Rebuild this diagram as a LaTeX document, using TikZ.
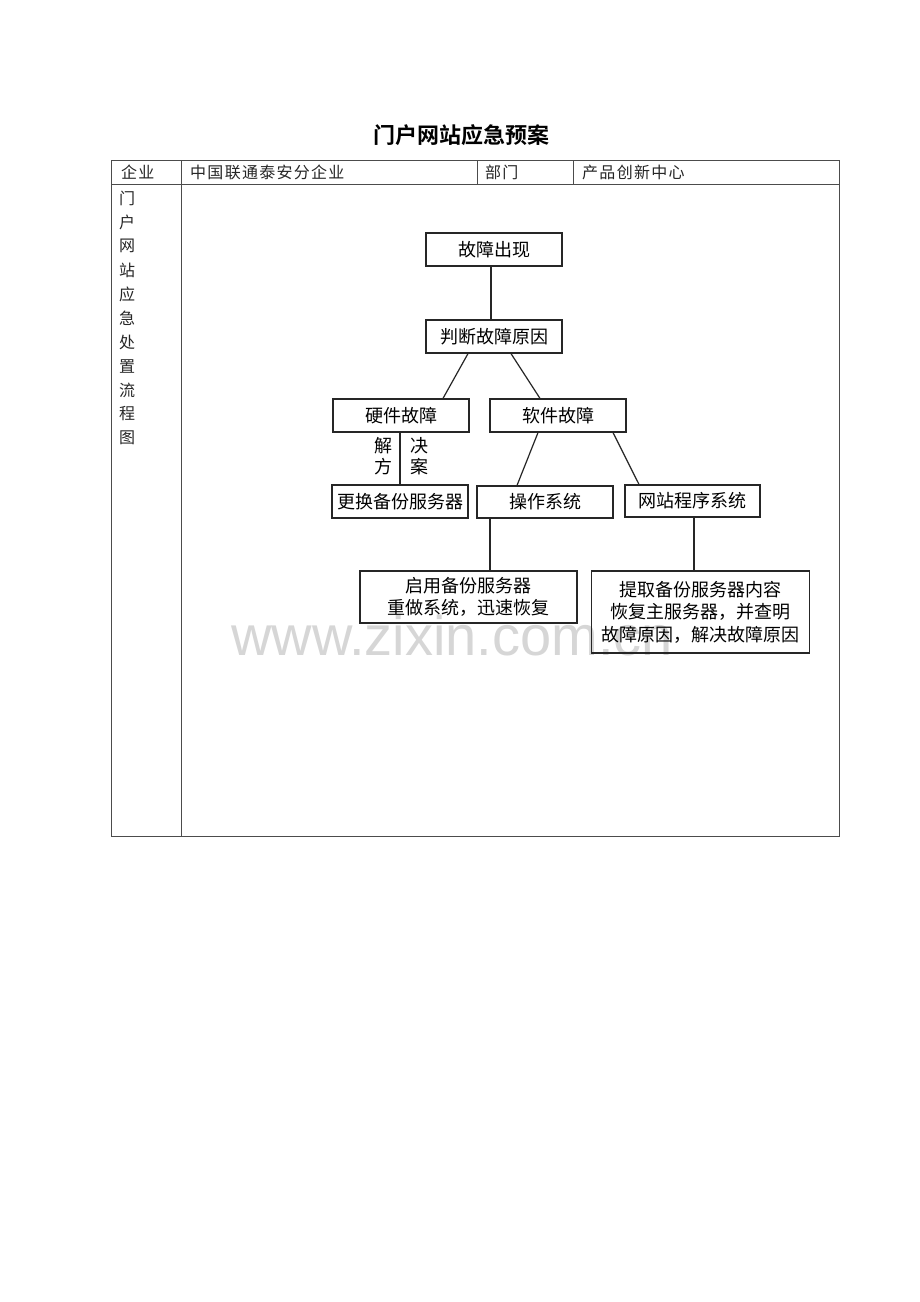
\documentclass[tikz,border=0pt]{standalone}
\usepackage{fontspec}
\newfontfamily\cjk{Noto Sans CJK SC}[BoldFont={Noto Sans CJK SC Bold}]
\newfontfamily\cjkls{Noto Sans CJK SC}[LetterSpace=8]
\setsansfont{Liberation Sans}
\begin{document}
\begin{tikzpicture}[x=1pt,y=-1pt,
  tbl/.style={line width=0.9pt,draw=black!70},
  fbox/.style={draw=black!85,line width=1.2pt,inner sep=0pt,font=\cjk\fontsize{18}{22.5}\selectfont,align=center},
  conn/.style={draw=black!85,line width=1.2pt},
  htext/.style={anchor=west,inner sep=0pt,font=\cjkls\fontsize{16}{18}\selectfont,text=black!85},
  vtext/.style={inner sep=0pt,font=\cjk\fontsize{16}{18}\selectfont,text=black!85},
  lbl/.style={inner sep=0pt,font=\cjk\fontsize{18}{20}\selectfont}]
\useasboundingbox (0,0) rectangle (920,1302);
\fill[white] (0,0) rectangle (920,1302);
% title
\node[inner sep=0pt,font=\cjk\bfseries\fontsize{22}{24}\selectfont] (title) at (461,135) {门户网站应急预案};
% table
\draw[tbl] (111,160) rectangle (839,836);
\draw[tbl] (111,184) -- (839,184);
\draw[tbl] (181,160) -- (181,836);
\draw[tbl] (477,160) -- (477,184);
\draw[tbl] (573,160) -- (573,184);
\node[htext] (h1) at (121,172) {企业};
\node[htext] (h2) at (190,172) {中国联通泰安分企业};
\node[htext] (h3) at (485,172) {部门};
\node[htext] (h4) at (582,172) {产品创新中心};
\foreach \c [count=\i from 0] in {门,户,网,站,应,急,处,置,流,程,图}
  \node[vtext] (v\i) at (127,198+24*\i) {\c};
% watermark
\node[inner sep=0pt,anchor=base west,font=\sffamily\fontsize{56}{60}\selectfont,text=black!16] (wm) at (231,655) {www.zixin.com.cn};
% flowchart boxes
\node[fbox,minimum width=136pt,minimum height=33pt] (b1) at (494,249.5) {故障出现};
\node[fbox,minimum width=136pt,minimum height=33pt] (b2) at (494,336.5) {判断故障原因};
\node[fbox,minimum width=136pt,minimum height=33pt] (hw) at (401,415.5) {硬件故障};
\node[fbox,minimum width=136pt,minimum height=33pt] (sw) at (558,415.5) {软件故障};
\node[fbox,minimum width=136pt,minimum height=33pt] (rep) at (400,501.5) {更换备份服务器};
\node[fbox,minimum width=136pt,minimum height=32pt] (os) at (545,502) {操作系统};
\node[fbox,minimum width=135pt,minimum height=32pt] (web) at (692.5,501) {网站程序系统};
\node[fbox,minimum width=217pt,minimum height=52pt] (boot) at (468.5,597) {启用备份服务器\\重做系统，迅速恢复};
\node[fbox,minimum width=218pt,minimum height=82pt] (ext) at (700.5,612) {提取备份服务器内容\\恢复主服务器，并查明\\故障原因，解决故障原因};
% labels
\node[lbl] (l1) at (383,446) {解};
\node[lbl] (l2) at (383,467) {方};
\node[lbl] (l3) at (419,446) {决};
\node[lbl] (l4) at (419,467) {案};
% connectors
\draw[conn] ([xshift=-3pt]b1.south) -- ([xshift=-3pt]b2.north);
\draw[conn] ([xshift=-26pt]b2.south) -- ([xshift=42pt]hw.north);
\draw[conn] ([xshift=17pt]b2.south) -- ([xshift=-18pt]sw.north);
\draw[conn] ([xshift=-1pt]hw.south) -- (rep.north);
\draw[conn] ([xshift=-20pt]sw.south) -- ([xshift=-28pt]os.north);
\draw[conn] ([xshift=55pt]sw.south) -- ([xshift=-53.5pt]web.north);
\draw[conn] ([xshift=-55pt]os.south) -- ([xshift=-55pt]os.south |- boot.north);
\draw[conn] ([xshift=1.5pt]web.south) -- ([xshift=1.5pt]web.south |- ext.north);
\end{tikzpicture}
\end{document}
